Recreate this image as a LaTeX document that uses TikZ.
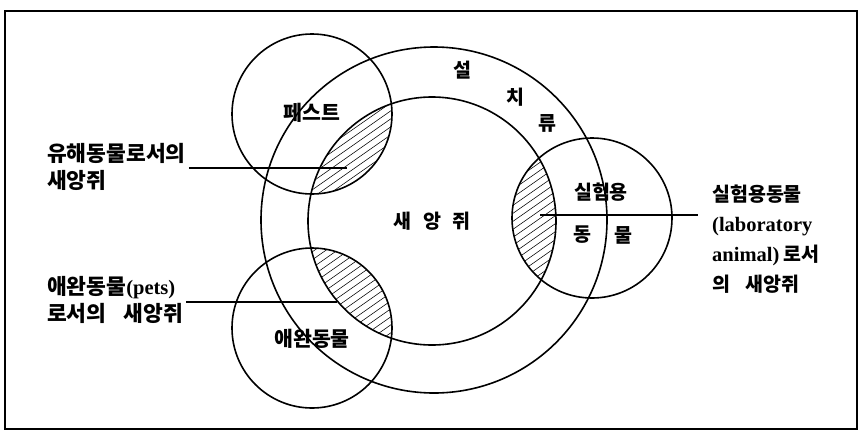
\documentclass[tikz,border=0pt]{standalone}
\usepackage{fontspec}
\setmainfont{Liberation Serif}
\newfontfamily\kr{Noto Sans CJK KR}
\tikzset{
  x=1pt,y=-1pt,
  ring/.style={draw=black,line width=1.6pt},
  frame/.style={draw=black,line width=1.8pt},
  hatch/.style={draw=black,line width=0.55pt},
  lead/.style={draw=black,line width=1.1pt},
  lbl/.style={anchor=west,align=left,inner sep=0pt,font=\fontsize{21.5}{27}\selectfont\kr\bfseries},
  inlbl/.style={inner sep=0pt,font=\fontsize{19.5}{22}\selectfont\kr\bfseries},
  lat/.style={},
}
\newcommand{\latin}[1]{{\fontsize{20.5}{27}\selectfont\rmfamily\bfseries #1}}
\begin{document}
\begin{tikzpicture}
\useasboundingbox (0,0) rectangle (860,432);
\fill[white] (0,0) rectangle (860,432);
\draw[frame] (5,11) rectangle (857,429);
% centres
\coordinate (cR) at (434,220);
\coordinate (cM) at (432,221);
\coordinate (cP) at (312,114);
\coordinate (cA) at (312,328);
\coordinate (cL) at (592,218);
% hatching: inner circle with each small circle
\foreach \c in {cP,cA,cL}{
  \begin{scope}
    \clip (cM) circle[radius=124];
    \clip (\c) circle[radius=80];
    \foreach \k in {-180,-172,...,180}{
      \draw[hatch] ([shift={(-130,91+\k)}]\c) -- ([shift={(130,-91+\k)}]\c);
    }
  \end{scope}
}
% circles
\draw[ring] (cR) circle[radius=173];
\draw[ring] (cM) circle[radius=124];
\draw[ring] (cP) circle[radius=80];
\draw[ring] (cA) circle[radius=80];
\draw[ring] (cL) circle[radius=80];
% labels inside
\node[inlbl] (sul) at (462,70) {설};
\node[inlbl] (chi) at (515,97) {치};
\node[inlbl] (ryu) at (547,123) {류};
\node[inlbl] (mouse) at (432,221) {새\hspace{0.6em}앙\hspace{0.6em}쥐};
\node[inlbl,font=\fontsize{20.5}{22}\selectfont\kr\bfseries] (pest) at (312,113) {페스트};
\node[inlbl] (lab1) at (601,192) {실험용};
\node[inlbl] (lab2) at (582,235) {동};
\node[inlbl] (lab3) at (623,235) {물};
\node[inlbl,font=\fontsize{20.5}{22}\selectfont\kr\bfseries] (pet) at (312,339) {애완동물};
% outside labels
\node[lbl] (Lpest) at (47,167) {유해동물로서의\\새앙쥐};
\node[lbl] (Lpet) at (47,300) {애완동물\latin{(pets)}\\로서의\hspace{0.8em}새앙쥐};
\node[lbl,font=\fontsize{19.5}{30}\selectfont\kr\bfseries] (Llab) at (712,239) {실험용동물\\\latin{(laboratory}\\\latin{animal)} 로서\\의\hspace{0.8em}새앙쥐};
% leaders
\coordinate (hP) at (347,168);
\coordinate (hA) at (337,302);
\coordinate (hL) at (540,215);
\coordinate (eL) at (698,215);
\draw[lead] (hP -| Lpest.east) ++(3,0) -- (hP);
\draw[lead] (hA -| Lpet.east) ++(3,0) -- (hA);
\draw[lead] (hL) -- (eL);
\end{tikzpicture}
\end{document}
